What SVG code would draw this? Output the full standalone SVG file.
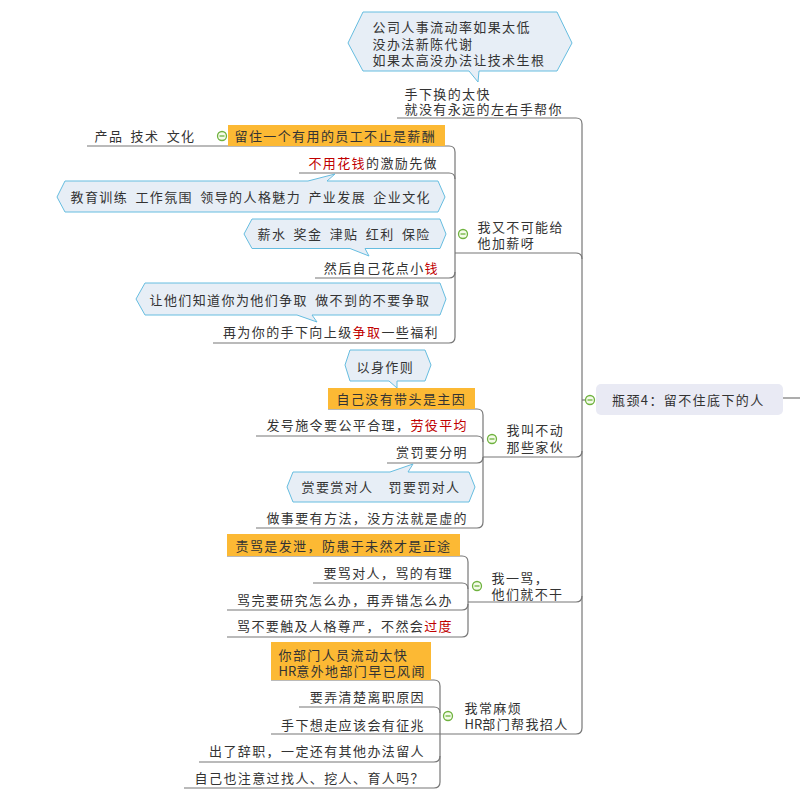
<svg xmlns="http://www.w3.org/2000/svg" width="800" height="808" viewBox="0 0 800 808">
<style>
text{font-family:"Noto Sans CJK SC","Noto Sans",sans-serif;font-size:13px;letter-spacing:1.4px;word-spacing:3px;fill:#333}
.r{fill:#c00000}
.e{text-anchor:end}
.n{letter-spacing:0}
.ln{fill:none;stroke:#777;stroke-width:1.2}
.co{fill:#e7eef6;stroke:#66bde0;stroke-width:1}
.or{fill:#fcb934}
.root{fill:#e9eaf4}
</style>
<defs>
<g id="minus"><circle r="4.5" fill="#f4fbe9" stroke="#6fb23f" stroke-width="1.3"/><path d="M-2.5,0H2.5" stroke="#6fb23f" stroke-width="1.3"/></g>
</defs>
<rect width="800" height="808" fill="#fff"/>
<g id="connectors" class="ln">
<path d="M397,118 H576 Q582,118 582,124 V728 Q582,734 576,734 H271"/>
<path d="M455,253 H576 Q582,253 582,259"/>
<path d="M483,457 H576 Q582,457 582,451"/>
<path d="M468,602 H576 Q582,602 582,596"/>
<path d="M582,400 H586"/>
<path d="M783,398 H800"/>
<path d="M87,146 H449 Q455,146 455,152 V337 Q455,343 449,343 H213"/>
<path d="M299,173 H449 Q455,173 455,179"/>
<path d="M315,278 H449 Q455,278 455,272"/>
<path d="M328,409 H477 Q483,409 483,415 V522 Q483,528 477,528 H256"/>
<path d="M256,436 H477 Q483,436 483,442"/>
<path d="M387,463 H477 Q483,463 483,457"/>
<path d="M227,556 H462 Q468,556 468,562 V631 Q468,637 462,637 H227"/>
<path d="M313,583 H462 Q468,583 468,589"/>
<path d="M227,610 H462 Q468,610 468,604"/>
<path d="M271,680 H434 Q440,680 440,686 V782 Q440,788 434,788 H184"/>
<path d="M299,707 H434 Q440,707 440,713"/>
<path d="M199,762 H434 Q440,762 440,756"/>
</g>
<g id="root">
<rect class="root" x="596" y="384" width="187" height="31" rx="5"/>
<text x="612" y="405">瓶颈4：留不住底下的人</text>
<use href="#minus" x="590" y="400"/>
</g>
<g id="callout-top">
<path class="co" d="M348,43 L363,12 H557 L572,43 L557,71 H479 L478,82 L469,71 H363 Z"/>
<text><tspan x="372.5" y="32">公司人事流动率如果太低</tspan><tspan x="372.5" y="48.5">没办法新陈代谢</tspan><tspan x="372.5" y="65">如果太高没办法让技术生根</tspan></text>
</g>
<g id="branch1">
<text><tspan x="404.5" y="98.5">手下换的太快</tspan><tspan x="404.5" y="113.5">就没有永远的左右手帮你</tspan></text>
</g>
<g id="branch2">
<text><tspan x="477.5" y="232">我又不可能给</tspan><tspan x="477.5" y="248">他加薪呀</tspan></text>
<use href="#minus" x="463" y="234"/>
</g>
<g id="b2-keep">
<rect class="or" x="228" y="125" width="217" height="21"/>
<text x="234.5" y="141">留住一个有用的员工不止是薪酬</text>
<use href="#minus" x="222" y="136"/>
</g>
<g id="b2-keep-sub">
<text x="94.5" y="141">产品 技术 文化</text>
</g>
<g id="b2-free">
<text class="e" x="438" y="167.5"><tspan class="r">不用花钱</tspan>的激励先做</text>
</g>
<g id="callout-edu">
<path class="co" d="M57,197 L65,181 H308 L335,174 L327,181 H438 L445,197 L438,212 H65 Z"/>
<text x="70.5" y="201.5">教育训练 工作氛围 领导的人格魅力 产业发展 企业文化</text>
</g>
<g id="callout-pay">
<path class="co" d="M244,234 L252,219 H440 L446,234 L440,248.5 H365 L369,256 L350,248.5 H252 Z"/>
<text x="257.5" y="238.5">薪水 奖金 津贴 红利 保险</text>
</g>
<g id="b2-money">
<text class="e" x="439" y="272.5">然后自己花点小<tspan class="r">钱</tspan></text>
</g>
<g id="callout-fight">
<path class="co" d="M136,299 L145,283 H440 L446,299 L440,315 H312 L317,322 L297,315 H145 Z"/>
<text x="149.5" y="304.5">让他们知道你为他们争取 做不到的不要争取</text>
</g>
<g id="b2-welfare">
<text class="e" x="439" y="337">再为你的手下向上级<tspan class="r">争取</tspan>一些福利</text>
</g>
<g id="branch3">
<text><tspan x="506.5" y="434.5">我叫不动</tspan><tspan x="506.5" y="452">那些家伙</tspan></text>
<use href="#minus" x="492" y="439"/>
</g>
<g id="callout-example">
<path class="co" d="M345,365 L350,350 H425 L431,365 L425,381 H397 L397,388 L389,381 H350 Z"/>
<text x="356.5" y="371.5">以身作则</text>
</g>
<g id="b3-lead">
<rect class="or" x="328" y="388" width="147" height="21"/>
<text x="336.5" y="403.5">自己没有带头是主因</text>
</g>
<g id="b3-fair">
<text class="e" x="468" y="430">发号施令要公平合理，<tspan class="r">劳役平均</tspan></text>
</g>
<g id="b3-reward">
<text class="e" x="468" y="457">赏罚要分明</text>
</g>
<g id="callout-reward">
<path class="co" d="M287,487 L293,472 H390 L413,464 L408,472 H469 L475,487 L469,502 H293 Z"/>
<text y="492"><tspan x="301.5">赏要赏对人</tspan><tspan x="388.5">罚要罚对人</tspan></text>
</g>
<g id="b3-method">
<text class="e" x="468" y="523">做事要有方法，没方法就是虚的</text>
</g>
<g id="branch4">
<text><tspan x="491.5" y="582.5">我一骂，</tspan><tspan x="491.5" y="598.5">他们就不干</tspan></text>
<use href="#minus" x="477" y="586"/>
</g>
<g id="b4-vent">
<rect class="or" x="227" y="534" width="233" height="22"/>
<text x="235.5" y="551">责骂是发泄，防患于未然才是正途</text>
</g>
<g id="b4-right">
<text class="e" x="453" y="577.5">要骂对人，骂的有理</text>
</g>
<g id="b4-study">
<text class="e" x="453" y="604.5">骂完要研究怎么办，再弄错怎么办</text>
</g>
<g id="b4-dignity">
<text class="e" x="453" y="631">骂不要触及人格尊严，不然会<tspan class="r">过度</tspan></text>
</g>
<g id="branch5">
<text><tspan x="464.5" y="713">我常麻烦</tspan><tspan x="464.5" y="728.5"><tspan class="n">HR</tspan>部门帮我招人</tspan></text>
<use href="#minus" x="448" y="716"/>
</g>
<g id="b5-hr">
<rect class="or" x="271" y="642" width="160" height="38"/>
<text><tspan x="278.5" y="659.5">你部门人员流动太快</tspan><tspan x="278.5" y="676"><tspan class="n">HR</tspan>意外地部门早已风闻</tspan></text>
</g>
<g id="b5-reason">
<text class="e" x="425" y="702">要弄清楚离职原因</text>
</g>
<g id="b5-sign">
<text class="e" x="425" y="729.5">手下想走应该会有征兆</text>
</g>
<g id="b5-other">
<text class="e" x="425" y="756">出了辞职，一定还有其他办法留人</text>
</g>
<g id="b5-self">
<text class="e" x="425" y="783">自己也注意过找人、挖人、育人吗？</text>
</g>
</svg>
